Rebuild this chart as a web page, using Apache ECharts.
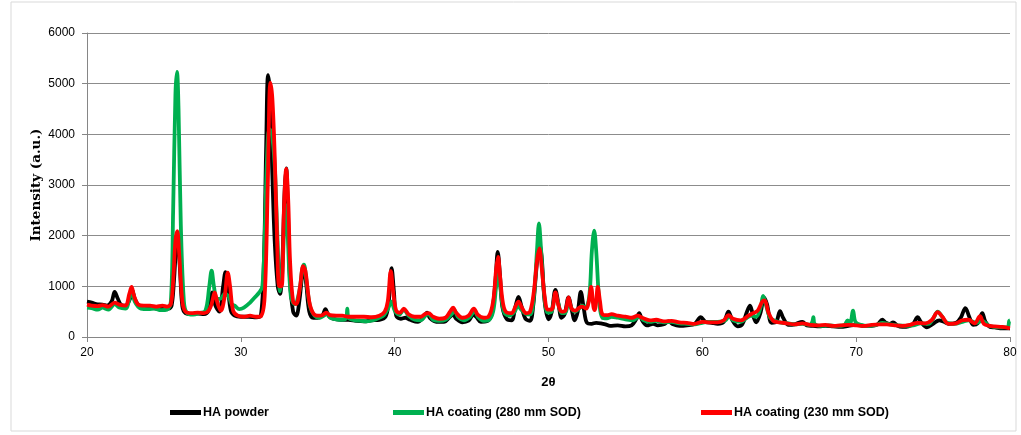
<!DOCTYPE html>
<html>
<head>
<meta charset="utf-8">
<script src="https://cdn.jsdelivr.net/npm/echarts@6/dist/echarts.min.js"></script>
<style>
html,body{margin:0;padding:0;background:#fff;}
#chart{width:1021px;height:435px;}
</style>
</head>
<body>
<div id="chart"></div>
<script>
var seriesNames = ['HA powder', 'HA coating (280 mm SOD)', 'HA coating (230 mm SOD)'];
var xTicks = [20, 30, 40, 50, 60, 70, 80];
var yTicks = [0, 1000, 2000, 3000, 4000, 5000, 6000];

var haPowder = [
[20.0,700],[20.3,680],[20.6,650],[21.0,640],[21.3,620],[21.6,700],[21.8,890],[22.0,760],[22.2,640],[22.5,620],[22.8,760],[22.95,920],[23.1,760],[23.4,620],[23.8,600],[24.2,580],[24.6,560],[25.0,570],[25.3,560],[25.5,620],[25.65,1100],[25.8,1800],[25.9,1950],[26.05,1300],[26.2,600],[26.4,470],[26.8,450],[27.2,460],[27.6,450],[27.9,520],[28.15,880],[28.35,620],[28.6,500],[28.85,1000],[29.0,1280],[29.15,1000],[29.35,520],[29.6,420],[30.0,400],[30.5,400],[31.0,390],[31.3,420],[31.5,1500],[31.65,3800],[31.77,5170],[31.9,4800],[32.05,3200],[32.2,1900],[32.4,1000],[32.55,850],[32.7,1500],[32.85,2900],[32.95,3330],[33.05,2600],[33.2,1100],[33.4,500],[33.6,420],[33.8,700],[34.0,1250],[34.1,1350],[34.25,1050],[34.45,500],[34.7,380],[35.0,380],[35.3,420],[35.5,550],[35.7,420],[36.0,360],[36.5,340],[37.0,340],[37.5,320],[38.0,310],[38.5,330],[39.0,340],[39.4,400],[39.6,650],[39.8,1360],[39.95,900],[40.1,420],[40.4,360],[40.7,380],[41.0,340],[41.5,300],[41.9,400],[42.1,480],[42.3,370],[42.7,300],[43.2,300],[43.6,400],[43.8,440],[44.0,360],[44.4,290],[44.8,320],[45.1,430],[45.3,400],[45.6,300],[46.0,310],[46.3,450],[46.55,1100],[46.7,1680],[46.85,1200],[47.0,600],[47.3,350],[47.6,330],[47.85,600],[48.05,790],[48.25,600],[48.5,360],[48.8,320],[49.0,600],[49.2,1300],[49.4,1850],[49.55,1600],[49.75,700],[50.0,350],[50.2,480],[50.45,930],[50.65,650],[50.85,380],[51.05,450],[51.3,780],[51.5,550],[51.7,330],[51.9,500],[52.1,890],[52.3,550],[52.5,280],[52.8,260],[53.1,280],[53.4,270],[53.7,250],[54.0,220],[54.5,230],[55.0,210],[55.4,230],[55.7,350],[55.9,470],[56.1,320],[56.4,230],[56.8,260],[57.1,230],[57.5,250],[57.8,310],[58.1,250],[58.5,220],[59.0,230],[59.5,260],[59.9,390],[60.2,300],[60.6,280],[61.0,260],[61.4,300],[61.7,500],[61.95,330],[62.3,210],[62.6,250],[62.9,500],[63.1,620],[63.3,420],[63.5,290],[63.8,500],[64.0,780],[64.2,650],[64.5,280],[64.8,300],[65.05,510],[65.25,380],[65.6,240],[66.0,250],[66.5,300],[66.8,230],[67.2,220],[67.6,210],[68.0,220],[68.5,210],[69.0,200],[69.5,220],[70.0,240],[70.5,220],[71.0,220],[71.4,250],[71.7,340],[71.9,290],[72.2,260],[72.4,290],[72.7,220],[73.0,200],[73.4,210],[73.7,260],[74.0,390],[74.2,300],[74.6,190],[75.0,260],[75.4,330],[75.7,300],[76.0,260],[76.5,280],[76.8,380],[77.1,570],[77.35,400],[77.6,240],[77.9,270],[78.2,470],[78.4,300],[78.7,200],[79.0,190],[79.5,170],[80.0,170]
];

var haCoating280 = [
[20.0,580],[20.3,570],[20.7,540],[21.0,580],[21.4,540],[21.8,650],[22.1,580],[22.5,560],[22.8,800],[22.95,900],[23.1,700],[23.5,560],[24.0,550],[24.4,560],[24.8,530],[25.2,540],[25.45,700],[25.6,2500],[25.75,4800],[25.85,5230],[25.95,4500],[26.1,2200],[26.3,700],[26.5,470],[26.9,440],[27.3,470],[27.7,520],[27.95,1000],[28.1,1310],[28.25,1000],[28.45,750],[28.7,760],[28.95,850],[29.2,800],[29.4,650],[29.6,620],[29.9,550],[30.2,580],[30.6,680],[30.9,780],[31.2,880],[31.4,1000],[31.55,2000],[31.7,3500],[31.85,4100],[32.0,4050],[32.2,3400],[32.4,1800],[32.55,900],[32.7,1300],[32.85,2400],[32.95,2600],[33.05,2000],[33.25,800],[33.5,650],[33.8,900],[34.0,1350],[34.1,1430],[34.25,1150],[34.5,600],[34.8,420],[35.1,380],[35.4,420],[35.6,470],[35.8,380],[36.2,350],[36.6,340],[36.85,380],[36.92,560],[37.0,380],[37.4,330],[37.8,320],[38.2,310],[38.6,330],[39.0,380],[39.3,430],[39.55,550],[39.8,700],[40.0,520],[40.3,440],[40.6,540],[40.9,420],[41.3,340],[41.7,330],[42.0,420],[42.2,450],[42.5,340],[42.9,320],[43.3,340],[43.7,450],[43.9,520],[44.1,400],[44.5,330],[44.9,400],[45.2,520],[45.4,400],[45.8,320],[46.1,330],[46.4,500],[46.6,1000],[46.75,1250],[46.9,900],[47.1,500],[47.4,420],[47.8,500],[48.0,620],[48.2,550],[48.5,460],[48.8,440],[49.05,800],[49.25,1700],[49.38,2240],[49.5,1800],[49.7,900],[49.95,480],[50.2,500],[50.45,820],[50.65,650],[50.85,470],[51.1,480],[51.3,680],[51.5,560],[51.7,500],[52.0,560],[52.2,620],[52.4,580],[52.65,800],[52.82,1700],[52.97,2100],[53.1,1700],[53.3,700],[53.5,380],[53.8,370],[54.1,400],[54.5,380],[55.0,350],[55.5,330],[55.9,400],[56.2,330],[56.6,300],[57.0,320],[57.5,290],[58.0,300],[58.5,270],[59.0,260],[59.5,250],[60.0,280],[60.5,300],[61.0,300],[61.5,330],[61.75,420],[62.0,330],[62.5,300],[62.9,380],[63.2,420],[63.5,400],[63.8,600],[63.95,810],[64.15,620],[64.4,380],[64.8,310],[65.2,280],[65.6,270],[66.0,250],[66.5,260],[67.0,240],[67.15,300],[67.22,390],[67.3,260],[67.7,220],[68.2,230],[68.7,220],[69.2,230],[69.45,330],[69.6,260],[69.8,520],[69.95,300],[70.3,240],[70.8,220],[71.3,240],[71.7,280],[72.2,250],[72.7,230],[73.2,220],[73.7,230],[74.2,270],[74.7,260],[75.0,360],[75.3,500],[75.55,420],[75.9,280],[76.4,260],[76.9,300],[77.3,330],[77.8,280],[78.2,320],[78.6,230],[79.0,200],[79.5,190],[79.85,200],[79.95,320],[80.0,330]
];

var haCoating230 = [
[20.0,640],[20.3,620],[20.7,610],[21.0,630],[21.4,600],[21.8,680],[22.1,640],[22.5,620],[22.75,850],[22.9,990],[23.05,820],[23.3,650],[23.7,620],[24.1,620],[24.5,600],[24.9,620],[25.2,600],[25.45,650],[25.6,1100],[25.75,1900],[25.87,2090],[26.0,1600],[26.2,700],[26.4,500],[26.8,470],[27.2,480],[27.6,470],[27.9,520],[28.1,650],[28.3,880],[28.5,650],[28.7,520],[28.95,800],[29.15,1270],[29.3,1000],[29.5,520],[29.8,420],[30.2,400],[30.6,420],[31.0,400],[31.3,410],[31.55,800],[31.75,3000],[31.92,5020],[32.05,4700],[32.2,3600],[32.35,2000],[32.5,1000],[32.65,1000],[32.8,2500],[32.95,3320],[33.08,2700],[33.2,1500],[33.4,700],[33.6,650],[33.85,1000],[34.05,1400],[34.2,1300],[34.45,700],[34.7,470],[35.0,420],[35.3,430],[35.55,480],[35.8,430],[36.2,420],[36.6,420],[37.0,400],[37.5,400],[38.0,400],[38.5,390],[39.0,420],[39.35,500],[39.55,700],[39.75,1300],[39.9,900],[40.1,520],[40.35,480],[40.6,560],[40.9,450],[41.3,400],[41.7,400],[42.0,460],[42.2,470],[42.5,400],[42.9,360],[43.3,380],[43.6,500],[43.8,580],[44.0,480],[44.4,380],[44.8,420],[45.15,560],[45.4,440],[45.8,380],[46.1,400],[46.4,700],[46.6,1350],[46.72,1580],[46.85,1200],[47.05,650],[47.3,480],[47.6,470],[47.85,600],[48.05,700],[48.3,560],[48.55,470],[48.8,500],[49.05,900],[49.25,1500],[49.4,1750],[49.55,1400],[49.75,800],[49.95,540],[50.2,540],[50.45,880],[50.65,620],[50.85,500],[51.1,520],[51.3,780],[51.5,560],[51.75,520],[52.0,580],[52.2,600],[52.45,560],[52.62,700],[52.77,990],[52.92,600],[53.0,530],[53.1,700],[53.2,990],[53.35,700],[53.5,450],[53.8,430],[54.1,450],[54.5,420],[55.0,400],[55.4,380],[55.8,420],[56.1,380],[56.6,330],[57.0,340],[57.5,310],[58.0,320],[58.5,290],[59.0,280],[59.5,260],[60.0,300],[60.5,290],[61.0,290],[61.4,330],[61.7,430],[62.0,360],[62.5,330],[63.0,420],[63.3,470],[63.6,520],[63.9,700],[64.05,720],[64.3,480],[64.6,320],[65.0,290],[65.5,270],[66.0,250],[66.5,270],[67.0,240],[67.5,230],[68.0,240],[68.5,220],[69.0,230],[69.5,240],[70.0,230],[70.5,220],[71.0,240],[71.5,250],[72.0,250],[72.5,230],[73.0,220],[73.5,240],[74.0,280],[74.5,270],[74.9,330],[75.3,490],[75.6,400],[76.0,260],[76.5,270],[76.9,330],[77.3,340],[77.7,270],[78.05,410],[78.3,260],[78.7,220],[79.0,210],[79.5,200],[80.0,170]
];

var colors = ['#000000', '#00B050', '#FF0000'];
var dataSets = [haPowder, haCoating280, haCoating230];
var tickFont = "'Liberation Sans','Arial',sans-serif";

var chart = echarts.init(document.getElementById('chart'), null, {renderer: 'canvas'});

var legendLefts = [170, 393, 701];
var legends = seriesNames.map(function (n, i) {
  return {
    data: [n],
    left: legendLefts[i],
    top: 406,
    icon: 'rect',
    itemWidth: 31,
    itemHeight: 5,
    itemGap: 0,
    padding: 0,
    textStyle: {fontFamily: tickFont, fontSize: 12.5, fontWeight: 'bold', color: '#000', padding: [0, 0, 0, -3]}
  };
});

chart.setOption({
  animation: false,
  backgroundColor: '#fff',
  graphic: [{
    type: 'rect', shape: {x: 11, y: 2, width: 1005, height: 429},
    style: {fill: 'none', stroke: '#D9D9D9', lineWidth: 1}, silent: true
  }],
  grid: {left: 87, right: 11, top: 33, bottom: 98, containLabel: false},
  legend: legends,
  xAxis: {
    type: 'value', min: xTicks[0], max: xTicks[xTicks.length - 1], interval: 10,
    name: '2θ', nameLocation: 'middle', nameGap: 39, nameMoveOverlap: false,
    nameTextStyle: {fontFamily: "'Liberation Sans','Arial',sans-serif", fontSize: 13, fontWeight: 'bold', color: '#000'},
    axisLine: {show: true, lineStyle: {color: '#868686', width: 1}},
    axisTick: {show: true, inside: false, length: 5, lineStyle: {color: '#868686'}},
    axisLabel: {fontFamily: tickFont, fontSize: 12, color: '#000', margin: 10,
      formatter: function (v) { return xTicks.indexOf(v) >= 0 ? String(v) : ''; }},
    splitLine: {show: false}
  },
  yAxis: {
    type: 'value', min: yTicks[0], max: yTicks[yTicks.length - 1], interval: 1000,
    name: 'Intensity (a.u.)', nameLocation: 'middle', nameGap: 44, nameRotate: 90, nameMoveOverlap: false,
    nameTextStyle: {fontFamily: "'DejaVu Serif','Liberation Serif',serif", fontSize: 13.5, fontWeight: 'bold', color: '#000'},
    axisLine: {show: true, lineStyle: {color: '#868686', width: 1}},
    axisTick: {show: true, inside: false, length: 5, lineStyle: {color: '#868686'}},
    axisLabel: {fontFamily: tickFont, fontSize: 12, color: '#000', margin: 12,
      formatter: function (v) { return yTicks.indexOf(v) >= 0 ? String(v) : ''; }},
    splitLine: {show: true, lineStyle: {color: '#8C8C8C', width: 1}}
  },
  series: seriesNames.map(function (n, i) {
    return {
      name: n, type: 'line', data: dataSets[i], showSymbol: false, symbol: 'none',
      smooth: 0.35, color: colors[i],
      lineStyle: {color: colors[i], width: 3.8, join: 'round'},
      z: 2 + i
    };
  })
});
</script>
</body>
</html>
